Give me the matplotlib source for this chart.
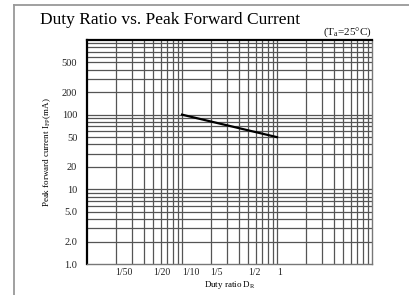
import matplotlib
matplotlib.use("Agg")
import matplotlib.pyplot as plt
from matplotlib.lines import Line2D
import numpy as np

# Data
duty_ratio = [0.1, 1.0]
peak_current = [100, 50]
x_tick_vals = [1/50, 1/20, 1/10, 1/5, 1/2, 1]
x_tick_labels = ["1/50", "1/20", "1/10", "1/5", "1/2", "1"]
y_tick_vals = [1, 2, 5, 10, 20, 50, 100, 200, 500]
y_tick_labels = ["1.0", "2.0", "5.0", "10", "20", "50", "100", "200", "500"]

plt.rcParams['font.family'] = ['Liberation Serif', 'DejaVu Serif']

fig = plt.figure(figsize=(4.10, 2.95), dpi=100)
ax = fig.add_axes([87/410, 1-264/295, (372-87)/410, (264-40)/295])
ax.set_xscale('log')
ax.set_yscale('log')
ax.set_xlim(0.01, 10)
ax.set_ylim(1, 1000)

# grid lines
grid_color = '#555555'
for dec in [0.01, 0.1, 1]:
    for m in range(1, 10):
        v = dec * m
        if 0.01 < v < 10:
            ax.axvline(v, color=grid_color, lw=0.9, zorder=1)
for dec in [1, 10, 100]:
    for m in range(1, 10):
        v = dec * m
        if 1 < v < 1000:
            ax.axhline(v, color=grid_color, lw=0.9, zorder=1)

ax.plot(duty_ratio, peak_current, color='black', lw=1.6, zorder=3)

ax.set_xticks(x_tick_vals)
ax.set_xticklabels(x_tick_labels, fontsize=7, ha='left')
ax.set_xticks([], minor=True)
ax.set_yticks(y_tick_vals)
ax.set_yticklabels(y_tick_labels, fontsize=7.5)
ax.set_yticks([], minor=True)
ax.tick_params(axis='x', length=0, pad=3, colors='#222222')
ax.tick_params(axis='y', length=0, pad=7, colors='#222222')

for s in ['bottom', 'right']:
    ax.spines[s].set_color('#777777')
    ax.spines[s].set_linewidth(1.0)
for s in ['left', 'top']:
    ax.spines[s].set_color('black')
    ax.spines[s].set_linewidth(1.6)

ax.set_xlabel("Duty ratio D$_\\mathregular{R}$", fontsize=6.5, va='center')
ax.xaxis.set_label_coords(0.5, (264-285)/224)
ax.set_ylabel("Peak forward current I$_\\mathregular{FP}$(mA)", fontsize=6.5, va='center')
ax.yaxis.set_label_coords((47-87)/285, 0.5)

fig.text(40/410, 1-24/295, "Duty Ratio vs. Peak Forward Current", fontsize=12.5,
         ha='left', va='baseline', color='black')
fig.text(372/410, 1-35/295, "(T$_\\mathregular{a}$=25°C)", fontsize=8,
         ha='right', va='baseline', color='#111111')

# page frame
fig.add_artist(Line2D([14.5/410, 14.5/410], [0, 1-4.5/295], transform=fig.transFigure,
                      color='#999999', lw=1.3))
fig.add_artist(Line2D([14.5/410, 1], [1-4.5/295, 1-4.5/295], transform=fig.transFigure,
                      color='#999999', lw=1.3))

fig.savefig("out.png", dpi=100)
